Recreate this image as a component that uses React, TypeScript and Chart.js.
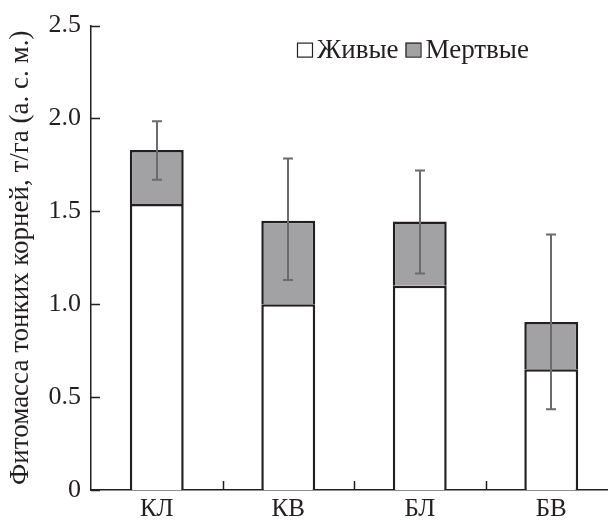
import React, { useEffect, useRef } from 'react';
import { Chart, registerables } from 'chart.js';

Chart.register(...registerables);

const categories = ['КЛ', 'КВ', 'БЛ', 'БВ'];
const liveValues = [1.54, 1.0, 1.1, 0.65];
const deadValues = [0.29, 0.45, 0.345, 0.255];
const errorLow = [1.67, 1.13, 1.165, 0.435];
const errorHigh = [1.985, 1.785, 1.72, 1.375];
const yTickValues = [0, 0.5, 1.0, 1.5, 2.0, 2.5];
const seriesNames = ['Живые', 'Мертвые'];
const yTitle = 'Фитомасса тонких корней, т/га (а. с. м.)';

const INK = '#231f20';
const GRAY_FILL = '#a2a2a4';
const ERR_COLOR = '#6b6b6b';
const FONT = "'Liberation Serif', 'Times New Roman', serif";

const decorPlugin = {
  id: 'decor',
  afterDatasetsDraw(chart: any) {
    const { ctx, chartArea, scales } = chart;
    const y = scales.y;
    ctx.save();
    // inward y ticks
    ctx.strokeStyle = INK;
    ctx.lineWidth = 1.5;
    yTickValues.forEach((v) => {
      const py = Math.round(y.getPixelForValue(v)) + 0.5;
      ctx.beginPath();
      ctx.moveTo(chartArea.left, py);
      ctx.lineTo(chartArea.left + 9, py);
      ctx.stroke();
    });
    // inward x ticks at category boundaries
    const step = (chartArea.right - chartArea.left) / categories.length;
    for (let i = 1; i <= categories.length; i++) {
      const px = Math.round(chartArea.left + step * i) + 0.5;
      ctx.beginPath();
      ctx.moveTo(px, chartArea.bottom);
      ctx.lineTo(px, chartArea.bottom - 9);
      ctx.stroke();
    }
    // error bars
    const meta = chart.getDatasetMeta(1);
    ctx.strokeStyle = ERR_COLOR;
    ctx.lineWidth = 2;
    meta.data.forEach((bar: any, i: number) => {
      const cx = Math.round(bar.x);
      const yl = y.getPixelForValue(errorLow[i]);
      const yh = y.getPixelForValue(errorHigh[i]);
      ctx.beginPath();
      ctx.moveTo(cx, yl);
      ctx.lineTo(cx, yh);
      ctx.moveTo(cx - 5, yl);
      ctx.lineTo(cx + 5, yl);
      ctx.moveTo(cx - 5, yh);
      ctx.lineTo(cx + 5, yh);
      ctx.stroke();
    });
    // legend
    const lx = chartArea.left + 206;
    const ly = chartArea.top + 17;
    ctx.font = `27px ${FONT}`;
    ctx.textBaseline = 'alphabetic';
    ctx.textAlign = 'left';
    const colors = ['#ffffff', GRAY_FILL];
    let cx = lx;
    seriesNames.forEach((name, i) => {
      ctx.fillStyle = colors[i];
      ctx.fillRect(cx, ly, 15, 14);
      ctx.strokeStyle = INK;
      ctx.lineWidth = 1.2;
      ctx.strokeRect(cx + 0.5, ly + 0.5, 15, 14);
      ctx.fillStyle = INK;
      const tx = cx + 20;
      ctx.fillText(name, tx, ly + 15);
      cx = tx + ctx.measureText(name).width + 7;
    });
    ctx.restore();
  },
};

export default function App() {
  const ref = useRef<HTMLCanvasElement | null>(null);
  useEffect(() => {
    document.body.style.margin = '0';
    const canvas = ref.current;
    if (!canvas) return;
    const chart = new Chart(canvas, {
      type: 'bar',
      data: {
        labels: categories,
        datasets: [
          {
            label: seriesNames[0],
            data: liveValues,
            backgroundColor: '#ffffff',
            borderColor: INK,
            borderWidth: 2.5,
            barPercentage: 0.82,
            categoryPercentage: 0.5,
          },
          {
            label: seriesNames[1],
            data: deadValues,
            backgroundColor: GRAY_FILL,
            borderColor: INK,
            borderWidth: 2.5,
            barPercentage: 0.82,
            categoryPercentage: 0.5,
          },
        ],
      },
      options: {
        responsive: false,
        animation: false,
        layout: { padding: { top: 25, right: 3, left: 0, bottom: 0 } },
        plugins: {
          legend: { display: false },
          tooltip: { enabled: false },
        },
        scales: {
          x: {
            stacked: true,
            offset: true,
            grid: { display: false, drawTicks: false },
            border: { display: true, color: INK, width: 1.5 },
            ticks: { color: INK, font: { family: FONT, size: 25 }, padding: 4 },
            afterFit: (s: any) => {
              s.height = 31;
            },
          },
          y: {
            stacked: true,
            min: 0,
            max: 2.5,
            grid: { display: false, drawTicks: false },
            border: { display: true, color: INK, width: 1.5 },
            afterBuildTicks: (s: any) => {
              s.ticks = yTickValues.map((v) => ({ value: v }));
            },
            ticks: {
              color: INK,
              font: { family: FONT, size: 26 },
              padding: 10,
              callback: (v: any) => (Number(v) === 0 ? '0' : Number(v).toFixed(1)),
            },
            title: {
              display: true,
              text: yTitle,
              color: INK,
              font: { family: FONT, size: 27 },
              padding: { top: 5, bottom: 0 },
            },
            afterFit: (s: any) => {
              s.width = 91;
            },
          },
        },
      },
      plugins: [decorPlugin],
    });
    return () => chart.destroy();
  }, []);
  return (
    <div style={{ width: 608, height: 521, overflow: 'hidden', position: 'relative', background: '#fff' }}>
      <canvas ref={ref} width={620} height={521} style={{ display: 'block' }} />
    </div>
  );
}
